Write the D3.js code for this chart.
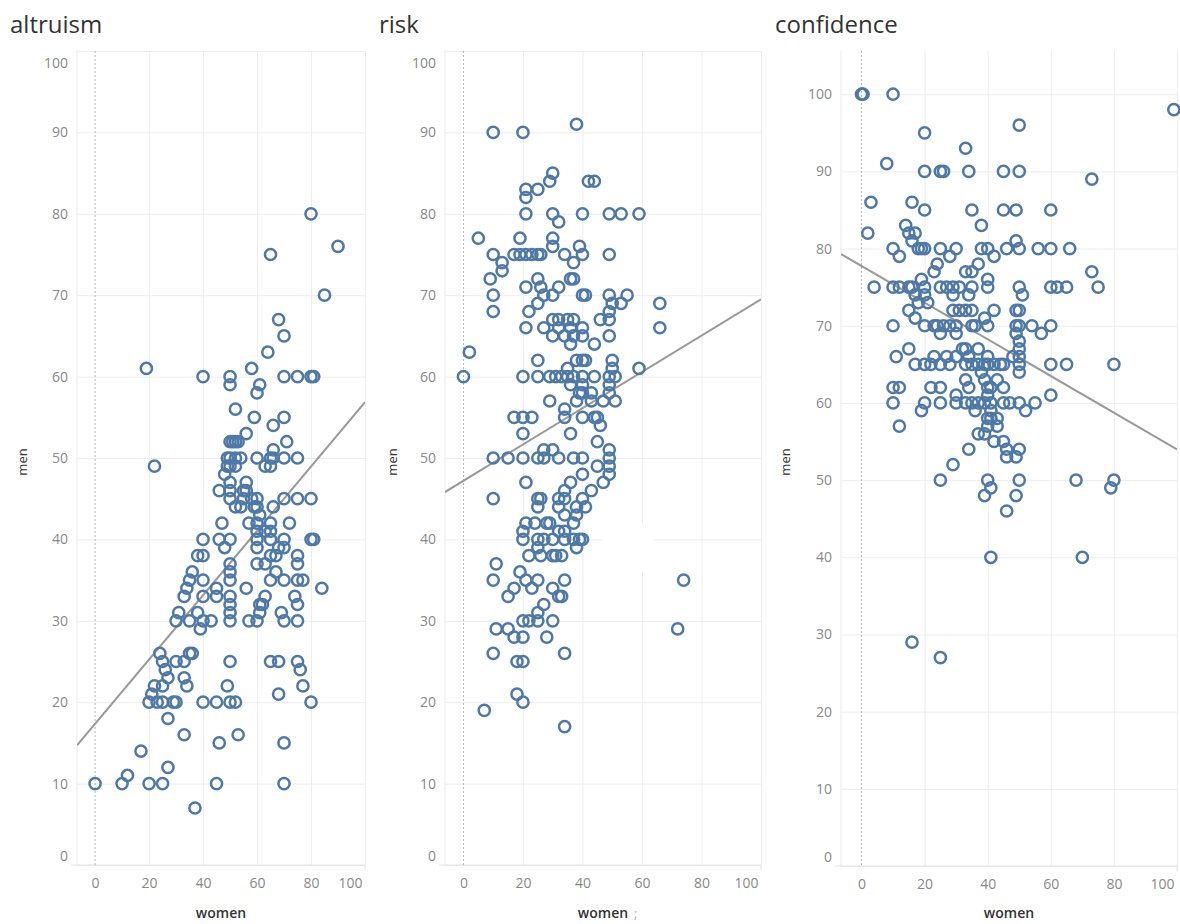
<!DOCTYPE html>
<html><head><meta charset="utf-8">
<script src="https://cdn.jsdelivr.net/npm/d3@7"></script>
<style>body{margin:0;background:#fff}svg{display:block}</style>
</head><body><svg id="c" width="1180" height="924"></svg>
<script>
// ---------- data ----------
const panelTitles = ["altruism", "risk", "confidence"];
const xTicks = [0, 20, 40, 60, 80, 100];
const yTicks = [0, 10, 20, 30, 40, 50, 60, 70, 80, 90, 100];
const xAxisTitle = "women";
const yAxisTitle = "men";

// [women, men]
const altruism = [
[80,80],[90,76],[65,75],[85,70],[68,67],[70,65],[64,63],[19,61],[40,60],[50,60],[50,59],[58,61],[61,59],[60,58],[70,60],[75,60],[80,60],[81,60],[52,56],[59,55],[70,55],[66,54],[56,53],[71,52],[50,52],[51,52],[52,52],[53,52],[66,51],
[49,50],[50,50],[52,50],[54,50],[60,50],[65,50],[66,50],[70,50],[75,50],
[49,49],[50,49],[52,49],[63,49],[65,49],[22,49],[48,48],[50,47],[56,47],[46,46],[50,46],[55,46],[56,46],
[50,45],[55,45],[58,45],[60,45],[70,45],[75,45],[80,45],
[52,44],[54,44],[59,44],[60,44],[66,44],[61,43],
[47,42],[57,42],[60,42],[65,42],[72,42],[60,41],[63,41],[65,41],
[40,40],[46,40],[50,40],[60,40],[65,40],[70,40],[80,40],[81,40],
[48,39],[60,39],[68,39],[70,39],
[38,38],[40,38],[65,38],[67,38],[75,38],
[50,37],[60,37],[63,37],[75,37],
[36,36],[50,36],[67,36],
[35,35],[40,35],[50,35],[65,35],[70,35],[75,35],[77,35],
[34,34],[45,34],[56,34],[84,34],
[33,33],[40,33],[45,33],[50,33],[63,33],[74,33],
[50,32],[61,32],[62,32],[75,32],
[31,31],[38,31],[50,31],[61,31],[69,31],
[30,30],[35,30],[40,30],[43,30],[50,30],[57,30],[60,30],[70,30],[75,30],
[39,29],[24,26],[35,26],[36,26],
[25,25],[30,25],[33,25],[50,25],[65,25],[68,25],[75,25],
[26,24],[76,24],[27,23],[33,23],
[22,22],[25,22],[34,22],[49,22],[77,22],[21,21],[68,21],
[20,20],[23,20],[25,20],[29,20],[30,20],[40,20],[45,20],[50,20],[52,20],[80,20],
[27,18],[33,16],[46,15],[53,16],[70,15],[17,14],[27,12],[12,11],
[0,10],[10,10],[20,10],[25,10],[45,10],[70,10],[37,7]
];

const risk = [
[10,90],[20,90],[38,91],[30,85],[29,84],[42,84],[44,84],[21,83],[21,82],[25,83],
[21,80],[30,80],[40,80],[49,80],[53,80],[59,80],[32,79],
[5,77],[19,77],[30,77],[30,76],[39,76],
[10,75],[17,75],[19,75],[21,75],[23,75],[25,75],[26,75],[34,75],[40,75],[49,75],
[13,74],[13,73],[37,74],[9,72],[25,72],[36,72],[37,72],[21,71],[26,71],[32,71],
[10,70],[27,70],[30,70],[40,70],[41,70],[49,70],[55,70],
[25,69],[50,69],[53,69],[66,69],[10,68],[22,68],[49,68],
[30,67],[32,67],[35,67],[37,67],[46,67],[49,67],
[21,66],[27,66],[32,66],[36,66],[40,66],[66,66],
[30,65],[34,65],[37,65],[40,65],[49,65],[36,64],[44,64],[2,63],
[0,60],[25,62],[38,62],[40,62],[41,62],[50,62],[50,61],[59,61],[35,61],
[20,60],[25,60],[29,60],[31,60],[33,60],[35,60],[37,60],[40,60],[44,60],[49,60],[51,60],
[36,59],[40,59],[49,59],[39,58],[40,58],[43,58],[49,58],
[29,57],[38,57],[43,57],[47,57],[51,57],[34,56],
[17,55],[20,55],[23,55],[34,55],[40,55],[44,55],[45,55],[46,54],[20,53],[36,53],[45,52],
[27,51],[30,51],[49,51],
[10,50],[15,50],[20,50],[25,50],[27,50],[32,50],[37,50],[40,50],[49,50],
[49,49],[45,49],[49,48],[40,48],[21,47],[47,47],[36,47],[34,46],[43,46],
[10,45],[25,45],[26,45],[32,45],[34,45],[40,45],[25,44],[32,44],[38,44],[41,44],[34,43],[38,43],
[21,42],[24,42],[28,42],[29,42],[37,42],[20,41],[32,41],[34,41],
[20,40],[25,40],[27,40],[30,40],[34,40],[37,40],[39,40],[40,40],
[25,39],[38,39],[22,38],[26,38],[30,38],[31,38],[33,38],[11,37],[19,36],
[10,35],[21,35],[25,35],[34,35],[74,35],[17,34],[23,34],[30,34],[15,33],[32,33],[33,33],[27,32],[25,31],
[20,30],[22,30],[25,30],[30,30],[11,29],[15,29],[72,29],[17,28],[20,28],[28,28],
[10,26],[34,26],[18,25],[20,25],[18,21],[20,20],[7,19],[34,17]
];

const confidence = [
[0,100],[0.5,100],[10,100],[20,95],[50,96],[33,93],[99,98],[8,91],
[20,90],[25,90],[26,90],[34,90],[45,90],[50,90],[73,89],[3,86],[16,86],
[20,85],[35,85],[45,85],[49,85],[60,85],[38,83],[14,83],[2,82],[15,82],[17,82],[16,81],[49,81],
[10,80],[18,80],[19,80],[20,80],[25,80],[30,80],[38,80],[40,80],[46,80],[50,80],[56,80],[60,80],[66,80],
[12,79],[28,79],[42,79],[24,78],[37,78],[23,77],[33,77],[35,77],[73,77],[19,76],[40,76],
[4,75],[10,75],[12,75],[15,75],[16,75],[20,75],[25,75],[27,75],[29,75],[31,75],[35,75],[40,75],[50,75],[60,75],[62,75],[65,75],[75,75],
[17,74],[20,74],[29,74],[34,74],[51,74],[18,73],[21,73],
[15,72],[29,72],[31,72],[33,72],[35,72],[42,72],[49,72],[50,72],[17,71],[39,71],
[10,70],[20,70],[23,70],[24,70],[26,70],[28,70],[30,70],[35,70],[36,70],[40,70],[49,70],[50,70],[54,70],[60,70],
[25,69],[30,69],[57,69],[49,69],[50,68],[50,67],[15,67],[32,67],[33,67],[37,67],
[11,66],[23,66],[27,66],[30,66],[34,66],[40,66],[48,66],[50,66],
[17,65],[20,65],[22,65],[25,65],[28,65],[33,65],[35,65],[37,65],[39,65],[40,65],[42,65],[44,65],[45,65],[50,65],[60,65],[65,65],[80,65],
[50,64],[38,64],[33,63],[39,63],[43,63],
[10,62],[12,62],[22,62],[25,62],[34,62],[40,62],[41,62],[45,62],[30,61],[60,61],[40,61],
[10,60],[20,60],[25,60],[30,60],[33,60],[35,60],[37,60],[39,60],[41,60],[45,60],[47,60],[50,60],[55,60],
[19,59],[36,59],[41,59],[52,59],[40,58],[41,58],[43,58],[12,57],[40,57],[43,57],[37,56],[39,56],[42,55],[45,55],
[34,54],[46,54],[50,54],[46,53],[49,53],[29,52],[25,50],[40,50],[50,50],[68,50],[80,50],[41,49],[79,49],[39,48],[49,48],[46,46],
[41,40],[70,40],[16,29],[25,27]
];

// trend lines: men = intercept + slope * women
const trendIntercept = [17.35, 47.2, 77.75];
const trendSlope = [0.395, 0.223, -0.2376];

// ---------- layout ----------
const seriesData = [altruism, risk, confidence];
const layout = [
  {titleX: 10,  plotL: 77,  plotR: 365,  xMin: -6.7, yMax: 100,   bottom: 865, menX: 27},
  {titleX: 379, plotL: 445, plotR: 761,  xMin: -6.2, yMax: 100,   bottom: 865, menX: 397},
  {titleX: 775, plotL: 841, plotR: 1177, xMin: -6.5, yMax: 105.6, bottom: 866, menX: 790}
];
const TOP = 51;
const FONT = "'Open Sans', 'Noto Sans', sans-serif";
const BLUE = "#4e79a7";

const svg = d3.select("#c");

layout.forEach((L, i) => {
  const g = svg.append("g");
  const x = d3.scaleLinear().domain([L.xMin, 100]).range([L.plotL, L.plotR]);
  const y = d3.scaleLinear().domain([0, L.yMax]).range([L.bottom, TOP]);
  const w = L.plotR - L.plotL;

  // title
  g.append("text").attr("x", L.titleX).attr("y", 33)
    .attr("font-family", FONT).attr("font-size", 24).attr("fill", "#333")
    .text(panelTitles[i]);

  // y axis with gridlines
  const ya = g.append("g").attr("transform", `translate(${L.plotL},0)`)
    .call(d3.axisLeft(y).tickValues(yTicks).tickSize(-w).tickPadding(9));
  ya.select(".domain").remove();
  ya.selectAll(".tick line").attr("stroke", "#ededed").attr("stroke-width", 1);
  ya.selectAll(".tick text").attr("font-family", FONT).attr("font-size", 14).attr("fill", "#888")
    .attr("y", d => {
      const p = y(d);
      if (p < TOP + 12) return TOP + 12 - p;
      if (p > L.bottom - 9) return L.bottom - 9 - p;
      return 0;
    });

  // x axis with gridlines
  const xa = g.append("g").attr("transform", `translate(0,${L.bottom})`)
    .call(d3.axisBottom(x).tickValues(xTicks).tickSize(-(L.bottom - TOP)).tickPadding(13));
  xa.select(".domain").remove();
  xa.selectAll(".tick line").attr("stroke", d => d === 0 ? "none" : "#ededed");
  xa.selectAll(".tick text").attr("font-family", FONT).attr("font-size", 14).attr("fill", "#888")
    .attr("text-anchor", d => d === 100 ? "end" : "middle")
    .attr("x", d => d === 100 ? -3 : 0);

  // plot frame (left + bottom)
  g.append("line").attr("x1", L.plotL).attr("x2", L.plotL).attr("y1", TOP).attr("y2", L.bottom)
    .attr("stroke", "#ebebeb");
  g.append("line").attr("x1", L.plotL - 6).attr("x2", L.plotR).attr("y1", L.bottom).attr("y2", L.bottom)
    .attr("stroke", "#e2e2e2");
  g.append("line").attr("x1", L.plotR).attr("x2", L.plotR).attr("y1", L.bottom).attr("y2", L.bottom + 5)
    .attr("stroke", "#e2e2e2");
  // zero reference line
  g.append("line").attr("x1", x(0)).attr("x2", x(0)).attr("y1", TOP).attr("y2", L.bottom)
    .attr("stroke", "#b5b5b5").attr("stroke-dasharray", "2,2");

  if (i === 1) {
    // white patch visible in reference
    g.append("rect").attr("x", x(46.5)).attr("y", y(42)).attr("width", x(64) - x(46.5)).attr("height", y(36) - y(42))
      .attr("fill", "#fff");
  }

  // axis titles
  g.append("text").attr("x", (L.plotL + L.plotR) / 2).attr("y", 918).attr("text-anchor", "middle")
    .attr("font-family", FONT).attr("font-size", 14).attr("font-weight", 600).attr("fill", "#333")
    .text(xAxisTitle);
  if (i === 1) {
    g.append("text").attr("x", (L.plotL + L.plotR) / 2 + 31).attr("y", 918)
      .attr("font-family", FONT).attr("font-size", 13).attr("fill", "#aaa").text(";");
  }
  g.append("text").attr("transform", `translate(${L.menX},462) rotate(-90)`).attr("text-anchor", "middle")
    .attr("font-family", FONT).attr("font-size", 13).attr("fill", "#333")
    .text(yAxisTitle);

  // trend line
  const clip = "clip" + i;
  svg.append("clipPath").attr("id", clip).append("rect")
    .attr("x", L.plotL).attr("y", TOP).attr("width", w).attr("height", L.bottom - TOP);
  const tx = [L.xMin, 100];
  g.append("line").attr("clip-path", `url(#${clip})`)
    .attr("x1", x(tx[0])).attr("y1", y(trendIntercept[i] + trendSlope[i] * tx[0]))
    .attr("x2", x(tx[1])).attr("y2", y(trendIntercept[i] + trendSlope[i] * tx[1]))
    .attr("stroke", "#999").attr("stroke-width", 2);

  // points
  g.append("g").selectAll("circle").data(seriesData[i]).join("circle")
    .attr("cx", d => x(d[0])).attr("cy", d => y(d[1])).attr("r", 5.6)
    .attr("fill", "none").attr("stroke", BLUE).attr("stroke-width", 2.5);
});
</script></body></html>
